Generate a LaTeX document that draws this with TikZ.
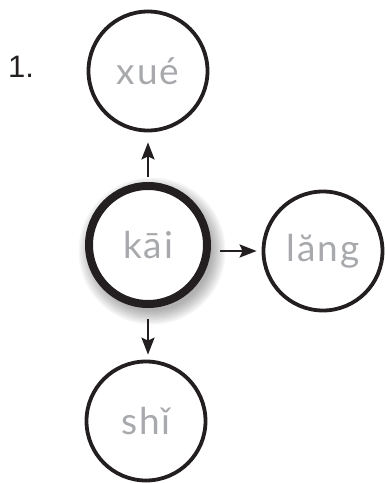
\documentclass[tikz,border=0pt]{standalone}
\usepackage{fontspec}
\setmainfont{Lato}[LetterSpace=5]
\newfontfamily\numfont{Liberation Sans}
\usetikzlibrary{arrows.meta,positioning,calc,backgrounds}
\definecolor{syllgray}{RGB}{167,169,172}
\definecolor{inkblack}{RGB}{35,31,32}

\tikzset{
  syll/.style={circle, draw=inkblack, line width=3.8pt, fill=white,
    minimum size=119pt, inner sep=0pt, text=syllgray,
    font=\fontsize{37}{40}\selectfont},
  hub/.style={syll, line width=8pt, minimum size=118pt},
  link/.style={line width=2.5pt, draw=inkblack,
    -{Stealth[length=17pt,width=13pt,inset=3pt]}}
}

\begin{document}
\begin{tikzpicture}[x=1pt, y=-1pt]
                    \useasboundingbox (0,0) rectangle (385,483);
                    \node[text=inkblack, font=\numfont\fontsize{31}{34}\selectfont] (num) at (21,67) {1.};
                    \node[hub] (kai) at (148,245) {kāi};
                    \node[syll] (xue) at (148,71) {xué};
                    \node[syll] (lang) at (323,251) {lăng};
                    \node[syll] (shi) at (146,421) {shǐ};
                    % soft shadow behind the centre circle
                    \begin{scope}[on background layer]
                      \foreach \r in {60,61.5,...,74}
                        \fill[black, opacity=0.035] ($(kai)+(4,6)$) circle (\r);
                    \end{scope}
                    \draw[link, shorten <=5pt, shorten >=10pt] (kai.north) -- (xue.south);
                    \draw[link, shorten <=9pt, shorten >=5pt] (kai.east |- lang.west) -- (lang.west);
                    \draw[link, shorten <=11pt, shorten >=5pt] (kai.south) -- (kai.south |- shi.north);
                \end{tikzpicture}
\end{document}
